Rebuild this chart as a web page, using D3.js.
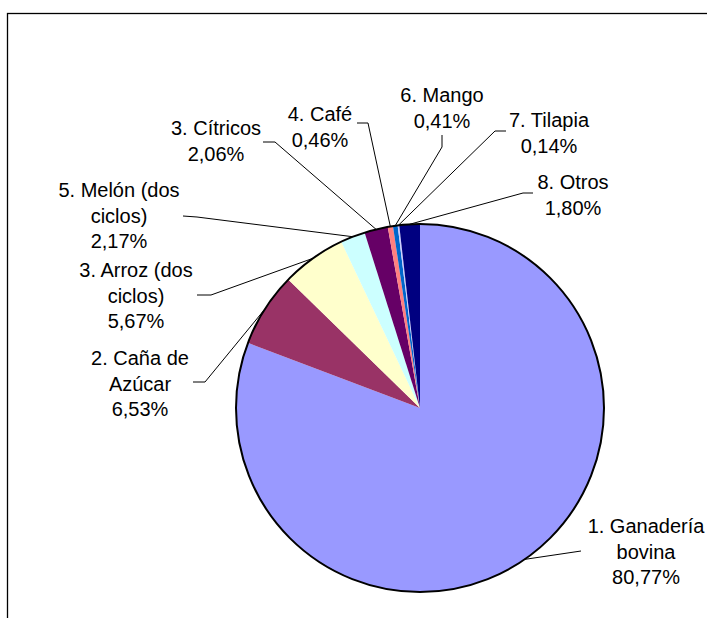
<!DOCTYPE html>
<html><head><meta charset="utf-8">
<script src="https://cdn.jsdelivr.net/npm/d3@7"></script>
<style>
body{margin:0;background:#fff}
svg{display:block}
text{font-family:"Liberation Sans",Arial,sans-serif;font-size:20px;fill:#000}
</style>
</head><body>
<svg id="chart" width="707" height="618"></svg>
<script>
// ---- data ----
const categories = ["1. Ganadería bovina","2. Caña de Azúcar","3. Arroz (dos ciclos)","5. Melón (dos ciclos)","3. Cítricos","4. Café","6. Mango","7. Tilapia","8. Otros"];
const labelLines = [["1. Ganadería","bovina"],["2. Caña de","Azúcar"],["3. Arroz (dos","ciclos)"],["5. Melón (dos","ciclos)"],["3. Cítricos"],["4. Café"],["6. Mango"],["7. Tilapia"],["8. Otros"]];
const values = [80.77,6.53,5.67,2.17,2.06,0.46,0.41,0.14,1.80];
const valueLabels = ["80,77%","6,53%","5,67%","2,17%","2,06%","0,46%","0,41%","0,14%","1,80%"];
const colors = ["#9999FF","#993366","#FFFFCC","#CCFFFF","#660066","#FF8080","#0066CC","#CCCCFF","#000080"];

// ---- layout (label placement) ----
const labelPos = [[646,533],[140,365],[136,277],[119,197],[216,135],[320,121],[442,102],[549,127],[573,189]];
const leaderPts = [[[581,551]],[[193,382],[205,382]],[[197,295],[211,295]],[[183,216],[197,217]],[[263,142],[275,142]],[[357,123],[368,123]],[[442,135],[442,147]],[[506,131],[495,131]],[[533,193],[523,193]]];

const svg = d3.select("#chart");
const cx = 420, cy = 408, R = 184, lineH = 25.5;

// frame
svg.append("rect").attr("x",7.5).attr("y",13.5).attr("width",760).attr("height",700)
  .attr("fill","none").attr("stroke","#000").attr("stroke-width",1.3);

const pie = d3.pie().sort(null).value(d=>d).startAngle(0).endAngle(2*Math.PI);
const arcs = pie(values);
const arc = d3.arc().innerRadius(0).outerRadius(R);
const edge = d3.arc().innerRadius(R).outerRadius(R);

const g = svg.append("g").attr("transform",`translate(${cx},${cy})`);
g.selectAll("path.slice").data(arcs).join("path")
  .attr("class","slice").attr("d",arc).attr("fill",(d,i)=>colors[i]);
g.append("circle").attr("r",R).attr("fill","none").attr("stroke","#000").attr("stroke-width",2);

// leader lines
const line = d3.line();
arcs.forEach((d,i)=>{
  const c = edge.centroid(d);
  const pts = leaderPts[i].concat([[c[0]+cx,c[1]+cy]]);
  svg.append("path").attr("d",line(pts)).attr("fill","none").attr("stroke","#000").attr("stroke-width",1);
});

// labels
arcs.forEach((d,i)=>{
  const lines = labelLines[i].concat([valueLabels[i]]);
  const t = svg.append("text").attr("text-anchor","middle");
  lines.forEach((s,k)=>{
    t.append("tspan").attr("x",labelPos[i][0]).attr("y",labelPos[i][1]+k*lineH).text(s);
  });
});
</script>
</body></html>
